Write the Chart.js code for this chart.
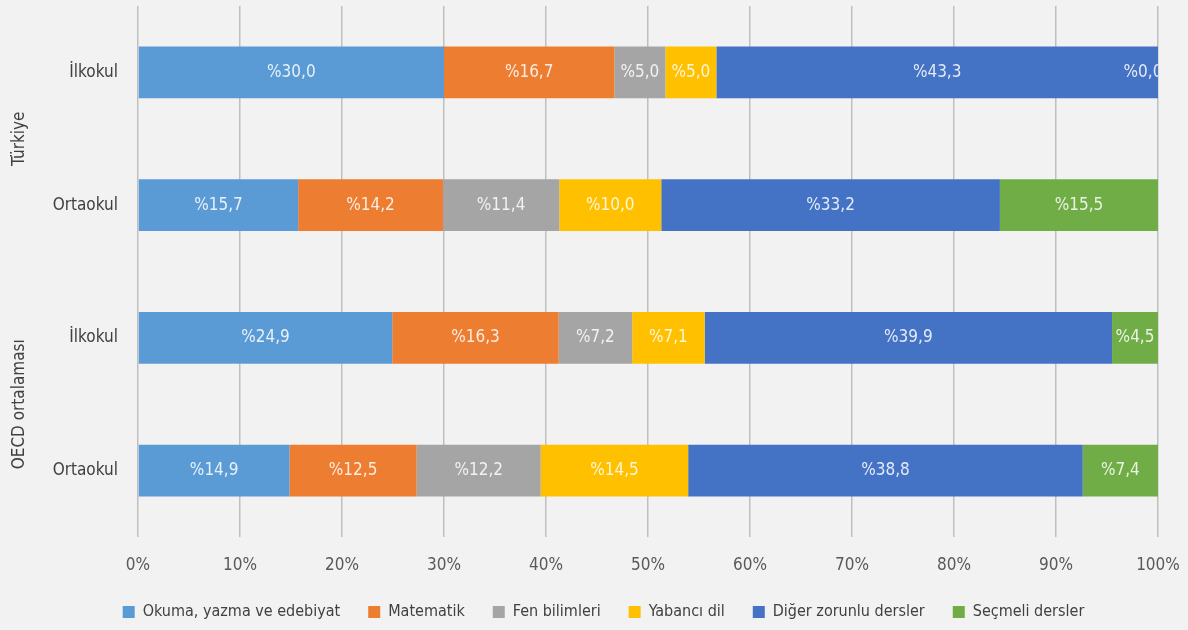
<!DOCTYPE html>
<html lang="tr">
<head>
    <meta charset="UTF-8">
    <title>Ders saatleri dağılımı</title>
    <script src="https://cdn.jsdelivr.net/npm/chart.js"></script>
    <style>
        html, body { margin: 0; padding: 0; background: #f2f2f2; }
        #wrap { width: 1188px; height: 630px; }
    </style>
</head>
<body>
    <div id="wrap"><canvas id="myChart"></canvas></div>
    <script>
        // Veriler
        const categories = ['İlkokul', 'Ortaokul', 'İlkokul', 'Ortaokul'];
        const groups = ['Türkiye', 'OECD ortalaması'];
        const seriesNames = ['Okuma, yazma ve edebiyat', 'Matematik', 'Fen bilimleri', 'Yabancı dil', 'Diğer zorunlu dersler', 'Seçmeli dersler'];
        const okuma    = [30.0, 15.7, 24.9, 14.9];
        const matematik = [16.7, 14.2, 16.3, 12.5];
        const fen      = [5.0, 11.4, 7.2, 12.2];
        const yabanci  = [5.0, 10.0, 7.1, 14.5];
        const diger    = [43.3, 33.2, 39.9, 38.8];
        const secmeli  = [0.0, 15.5, 4.5, 7.4];
        const xTicks = [0, 10, 20, 30, 40, 50, 60, 70, 80, 90, 100];

        const colors = ['#5B9BD5', '#ED7D31', '#A5A5A5', '#FFC000', '#4472C4', '#70AD47'];
        const series = [okuma, matematik, fen, yabanci, diger, secmeli];
        const FONT = "'DejaVu Sans Condensed', 'Liberation Sans Narrow', sans-serif";

        // %100 yığılmış grafik: her satırı toplamına göre ölçekle
        const totals = categories.map((c, i) => series.reduce((s, arr) => s + arr[i], 0));

        const datasets = series.map((arr, k) => ({
            label: seriesNames[k],
            data: arr.map((v, i) => v / totals[i] * 100),
            raw: arr,
            backgroundColor: colors[k],
            borderWidth: 0,
            barPercentage: 0.39,
            categoryPercentage: 1
        }));

        const fmt = v => '%' + v.toFixed(1).replace('.', ',');

        // Dilim etiketleri
        const segmentLabels = {
            id: 'segmentLabels',
            afterDatasetsDraw(chart) {
                const ctx = chart.ctx;
                const area = chart.chartArea;
                ctx.save();
                ctx.beginPath();
                ctx.rect(area.left, area.top, area.right - area.left, area.bottom - area.top);
                ctx.clip();
                ctx.font = '17px ' + FONT;
                ctx.fillStyle = 'rgba(255,255,255,0.85)';
                ctx.textBaseline = 'middle';
                ctx.textAlign = 'center';
                chart.data.datasets.forEach((ds, k) => {
                    chart.getDatasetMeta(k).data.forEach((el, i) => {
                        const p = el.getProps(['x', 'y', 'base'], true);
                        const v = ds.raw[i];
                        let cx = (p.x + p.base) / 2;
                        if (v === 0) cx = p.x - 15;
                        ctx.fillText(fmt(v), cx, p.y);
                    });
                });
                ctx.restore();
            }
        };

        // Grup etiketleri (dikey)
        const groupLabels = {
            id: 'groupLabels',
            afterDraw(chart) {
                const ctx = chart.ctx;
                const y = chart.scales.y;
                ctx.save();
                ctx.font = '17px ' + FONT;
                ctx.fillStyle = '#404040';
                ctx.textAlign = 'center';
                ctx.textBaseline = 'middle';
                groups.forEach((g, j) => {
                    const py = y.getPixelForValue(j * 2 + 0.5);
                    ctx.save();
                    ctx.translate(20, py);
                    ctx.rotate(-Math.PI / 2);
                    ctx.fillText(g, 0, 0);
                    ctx.restore();
                });
                ctx.restore();
            }
        };

        new Chart(document.getElementById('myChart'), {
            type: 'bar',
            data: { labels: categories, datasets: datasets },
            plugins: [segmentLabels, groupLabels],
            options: {
                indexAxis: 'y',
                responsive: true,
                maintainAspectRatio: false,
                animation: false,
                layout: { padding: { top: 6, right: 30, left: 49, bottom: 0 } },
                scales: {
                    x: {
                        stacked: true,
                        min: 0,
                        max: 100,
                        afterBuildTicks: s => { s.ticks = xTicks.map(v => ({ value: v })); },
                        afterFit: s => { s.height = 39; s.paddingLeft = 0; s.paddingRight = 0; },
                        grid: { color: '#bfbfbf', lineWidth: 1.5, drawTicks: false },
                        border: { display: false },
                        ticks: {
                            padding: 18,
                            color: '#595959',
                            font: { family: FONT, size: 17 },
                            callback: v => v + '%'
                        }
                    },
                    y: {
                        stacked: true,
                        afterFit: s => { s.width = 89; s.paddingTop = 0; s.paddingBottom = 0; },
                        grid: { display: false, drawTicks: false },
                        border: { display: false },
                        ticks: {
                            padding: 20,
                            color: '#404040',
                            font: { family: FONT, size: 17 }
                        }
                    }
                },
                plugins: {
                    legend: {
                        position: 'bottom',
                        labels: {
                            boxWidth: 12,
                            boxHeight: 12,
                            padding: 28,
                            color: '#404040',
                            font: { family: FONT, size: 16 }
                        }
                    },
                    tooltip: { enabled: false }
                }
            }
        });
    </script>
</body>
</html>
